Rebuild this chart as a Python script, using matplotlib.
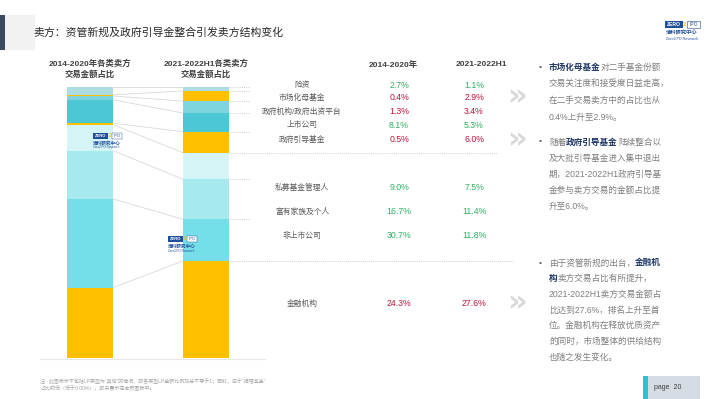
import matplotlib
matplotlib.use("Agg")
import matplotlib.pyplot as plt
import numpy as np
from matplotlib.patches import Rectangle

plt.rcParams['font.family'] = ['Liberation Sans', 'Noto Sans CJK SC', 'DejaVu Sans']

# ---------------- data (bottom -> top of stacked bars) ----------------
categories = ["金融机构", "非上市公司", "富有家族及个人", "私募基金管理人",
              "政府引导基金", "上市公司", "政府机构/政府出资平台", "市场化母基金", "险资"]
share_2014_2020 = [24.3, 30.7, 16.7, 9.0, 0.5, 8.1, 1.3, 0.4, 2.7]
share_2021_2022h1 = [27.6, 11.8, 11.4, 7.5, 6.0, 5.3, 3.4, 2.9, 1.1]
seg_colors = ["#FFC000", "#76DEE9", "#A6EAF0", "#D4F4F6", "#FFC000",
              "#4BC8D4", "#7FD5DE", "#FFC000", "#ADDDE2"]
bar_titles = ["2014-2020年各类卖方\n交易金额占比", "2021-2022H1各类卖方\n交易金额占比"]
col_headers = ["2014-2020年", "2021-2022H1"]
title = "卖方：资管新规及政府引导金整合引发卖方结构变化"

W, H = 710, 399
fig = plt.figure(figsize=(W / 100, H / 100), dpi=100)
fig.patch.set_facecolor("white")

def fx(x):
    return x / W

def fy(y):
    return 1 - y / H

# ---------------- bar axes ----------------
bx0, bx1, by0, by1 = 40, 265, 87, 358
axb = fig.add_axes([fx(bx0), fy(by1), fx(bx1) - fx(bx0), (by1 - by0) / H])
c0, c1 = 90, 206
scale = (c1 - c0)
bw = 46 / scale
axb.axis("off")

cums = []
for i, vals in enumerate([share_2014_2020, share_2021_2022h1]):
    v = np.array(vals) / np.sum(vals)
    bottoms = np.concatenate([[0], np.cumsum(v)[:-1]])
    axb.bar([i] * len(v), v, bottom=bottoms, width=bw, color=seg_colors,
            edgecolor="none", zorder=2)
    cums.append(np.cumsum(v))

# connecting lines between bars
for k in range(len(categories) - 1):
    axb.plot([0 + bw / 2, 1 - bw / 2], [cums[0][k], cums[1][k]],
             color="#D9D9D9", lw=0.6, zorder=1)
axb.plot([0 + bw / 2, 1 - bw / 2], [1, 1], color="#D9D9D9", lw=0.6, zorder=1)

# dotted lines to the right of right bar
x_r = 1 + bw / 2
long_idx = {0: 513, 3: 497}
for k in range(len(categories)):
    xe = (long_idx.get(k, 250) - c0) / scale
    axb.plot([x_r, xe], [cums[1][k], cums[1][k]], color="#BFBFBF", lw=0.6,
             ls=(0, (1, 1.5)), clip_on=False, zorder=1)

axb.set_ylim(0, 1)
axb.set_xlim(-(c0 - bx0) / scale, 1 + (bx1 - c1) / scale)

# ---------------- overlay axes ----------------
ax = fig.add_axes([0, 0, 1, 1], facecolor="none")
ax.set_xlim(0, W)
ax.set_ylim(H, 0)
ax.axis("off")

# title block
ax.add_patch(Rectangle((0, 15), 5, 35, color="#3B4A5E", lw=0))
ax.add_patch(Rectangle((5, 15), 30, 35, color="#F2F2F2", lw=0))
ax.text(33, 32, title, fontsize=7.8, color="#262626", va="center", ha="left")

# top-right logo
ax.add_patch(Rectangle((665, 21), 18, 7, color="#1F4E9A", lw=0))
ax.text(674, 24.5, "ZERO", fontsize=3.6, color="white", ha="center", va="center", weight="bold")
ax.text(684.5, 24.5, "2", fontsize=4.2, color="#FFC000", ha="center", va="center", weight="bold")
ax.add_patch(Rectangle((687, 21), 13, 7, facecolor="white", edgecolor="#1F4E9A", lw=0.4))
ax.text(693.5, 24.5, "IPO", fontsize=3.6, color="#1F4E9A", ha="center", va="center")
ax.text(666, 33, "清科研究中心", fontsize=3.8, color="#1F4E9A", ha="left", va="center", weight="bold")
ax.text(666, 39, "Zero2IPO Research", fontsize=2.6, color="#1F4E9A", ha="left", va="center")

# bar headers
for cx, t in zip([c0, c1], bar_titles):
    l1, l2 = t.split("\n")
    ax.text(cx, 64, l1, fontsize=6, color="#404040", ha="center", va="center", weight="bold")
    ax.text(cx, 75, l2, fontsize=6, color="#404040", ha="center", va="center", weight="bold")

# watermarks in bars
def watermark(x, y):
    ax.add_patch(Rectangle((x, y), 15, 5.5, color="#1F4E9A", lw=0, zorder=5))
    ax.text(x + 7.5, y + 2.8, "ZERO", fontsize=3, color="white", ha="center", va="center", weight="bold", zorder=6)
    ax.text(x + 17, y + 2.8, "2", fontsize=3.6, color="#FFC000", ha="center", va="center", weight="bold", zorder=6)
    ax.add_patch(Rectangle((x + 19, y), 10, 5.5, facecolor="white", edgecolor="#1F4E9A", lw=0.3, zorder=5))
    ax.text(x + 24, y + 2.8, "IPO", fontsize=3, color="#1F4E9A", ha="center", va="center", zorder=6)
    ax.text(x, y + 10, "清科研究中心", fontsize=3.3, color="#1F4E9A", ha="left", va="center", weight="bold", zorder=6)
    ax.text(x, y + 14.5, "Zero2IPO Research", fontsize=2.2, color="#1F4E9A", ha="left", va="center", zorder=6)

watermark(93, 133)
watermark(168, 236)

# bottom baseline
ax.plot([40, 265], [359, 359], color="#E6E6E6", lw=0.8)

# table
ax.text(393, 65, col_headers[0], fontsize=6, color="#404040", ha="center", va="center", weight="bold")
ax.text(481, 65, col_headers[1], fontsize=6, color="#404040", ha="center", va="center", weight="bold")

row_y = {"险资": 85, "市场化母基金": 98, "政府机构/政府出资平台": 112, "上市公司": 125,
         "政府引导基金": 140, "私募基金管理人": 188, "富有家族及个人": 212,
         "非上市公司": 236, "金融机构": 304}
green, red = "#2EAF62", "#C0143C"
for cat, a, b in zip(categories, share_2014_2020, share_2021_2022h1):
    y = row_y[cat]
    ax.text(302, y, cat, fontsize=5.6, color="#595959", ha="center", va="center")
    col = red if b > a else green
    ax.text(399, y, f"{a:.1f}%", fontsize=6.3, color=col, ha="center", va="center")
    ax.text(474, y, f"{b:.1f}%", fontsize=6.3, color=col, ha="center", va="center")

# chevrons
for y in [97, 140, 303]:
    ax.text(517, y, "»", fontsize=22, color="#D9D9D9", ha="center", va="center",
            family="DejaVu Sans", weight="bold")

# bullet texts
renderer = fig.canvas.get_renderer()
txt_gray = "#7F7F7F"
bold_col = "#1F3864"
fs = 6.2

def seg_line(x, y, segs):
    for s, bold in segs:
        t = ax.text(x, y, s, fontsize=fs, color=bold_col if bold else txt_gray,
                    weight="bold" if bold else "normal", ha="left", va="center")
        x += t.get_window_extent(renderer).width

bullets = [
    (67, 16.8, [[("市场化母基金", True), ("对二手基金份额", False)],
                [("交易关注度和接受度日益走高，", False)],
                [("在二手交易卖方中的占比也从", False)],
                [("0.4%上升至2.9%。", False)]]),
    (142, 16.0, [[("随着", False), ("政府引导基金", True), ("陆续整合以", False)],
                 [("及大批引导基金进入集中退出", False)],
                 [("期，2021-2022H1政府引导基", False)],
                 [("金参与卖方交易的金额占比提", False)],
                 [("升至6.0%。", False)]]),
    (263, 15.7, [[("由于资管新规的出台，", False), ("金融机", True)],
                 [("构", True), ("卖方交易占比有所提升，", False)],
                 [("2021-2022H1卖方交易金额占", False)],
                 [("比达到27.6%，排名上升至首", False)],
                 [("位。金融机构在释放优质资产", False)],
                 [("的同时，市场整体的供给结构", False)],
                 [("也随之发生变化。", False)]]),
]
for y0, dy, lines in bullets:
    ax.text(540, y0, "•", fontsize=6, color="#595959", ha="center", va="center")
    for i, segs in enumerate(lines):
        seg_line(549, y0 + i * dy, segs)

# footnote
ax.text(40, 381, "注：此图表示不包括LP类型为“其他”的情况，故各类型LP金额比例加总不等于1；同时，由于“捐赠基金”",
        fontsize=3.6, color="#A6A6A6", ha="left", va="center")
ax.text(40, 389, "占比较低（低于0.00%），故未展示在本页图表中。",
        fontsize=3.6, color="#A6A6A6", ha="left", va="center")

# page box
ax.add_patch(Rectangle((643, 376), 57, 23, color="#D6DCE4", lw=0))
ax.add_patch(Rectangle((643, 376), 5, 23, color="#2BC4CC", lw=0))
ax.text(668, 387.5, "page  20", fontsize=5, color="#404040", ha="center", va="center")

fig.savefig("out.png", dpi=100)
